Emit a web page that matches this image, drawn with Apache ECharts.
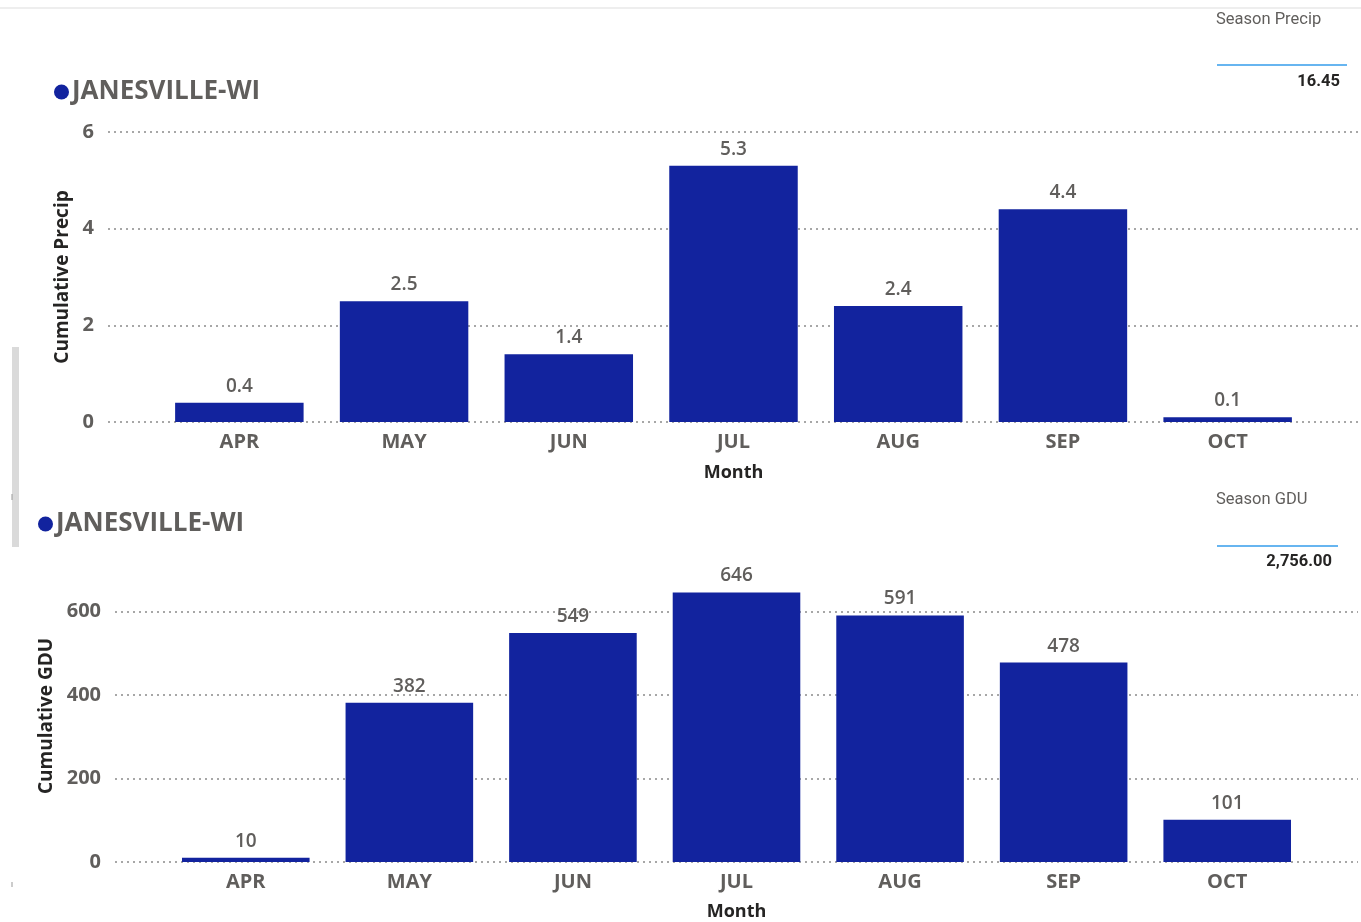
<!DOCTYPE html>
<html><head><meta charset="utf-8">
<script src="https://cdn.jsdelivr.net/npm/echarts@6/dist/echarts.min.js"></script>
<style>html,body{margin:0;padding:0;background:#fff}#c{width:1361px;height:922px}</style>
</head><body><div id="c"></div>
<script>
const months = ['APR','MAY','JUN','JUL','AUG','SEP','OCT'];
const precip = [0.4, 2.5, 1.4, 5.3, 2.4, 4.4, 0.1];
const gdu = [10, 382, 549, 646, 591, 478, 101];
const seriesName = 'JANESVILLE-WI';
const seasonPrecip = '16.45';
const seasonGdu = '2,756.00';

const BAR = '#12239E';
const TXT = '#605E5C';
const FONT = 'Open Sans';
const dotted = {type:[2,4], color:'#8a8a8a', width:1.5};

const chart = echarts.init(document.getElementById('c'));
function gridAxisY(gi, min, max, interval, name, gap){
  return {gridIndex:gi, type:'value', min, max, interval,
    name, nameLocation:'middle', nameRotate:90, nameGap:gap,
    nameTextStyle:{color:'#252423', fontSize:19, fontWeight:'bold', fontFamily:FONT},
    axisLine:{show:false}, axisTick:{show:false},
    axisLabel:{color:TXT, fontSize:20, fontWeight:'bold', fontFamily:FONT, margin:14, showMaxLabel: max%interval===0},
    splitLine:{show:true, lineStyle:dotted, showMaxLine: max%interval===0}};
}
function hiddenY(gi, min, max, interval){
  return {gridIndex:gi, type:'value', min, max, interval, show:false, splitLine:{show:false}};
}
function catX(gi, gap){
  return {gridIndex:gi, type:'category', data:months,
    name:'Month', nameLocation:'middle', nameGap:gap,
    nameTextStyle:{color:'#252423', fontSize:18, fontWeight:'bold', fontFamily:FONT},
    axisLine:{show:false}, axisTick:{show:false},
    axisLabel:{color:TXT, fontSize:20, fontWeight:'bold', fontFamily:FONT, margin:10}};
}
function barSeries(xi, yi, data){
  return {type:'bar', name:seriesName, xAxisIndex:xi, yAxisIndex:yi, data, barWidth:'78%',
    itemStyle:{color:BAR},
    label:{show:true, position:'top', distance:7, color:TXT, fontSize:19, fontWeight:600, fontFamily:FONT}};
}
const legendText = {color:TXT, fontSize:26, fontWeight:'bold', fontFamily:FONT, padding:[0,0,0,-2]};
chart.setOption({
  animation:false,
  legend:[
    {left:49, top:74, icon:'circle', itemWidth:15, itemHeight:15, itemGap:0, data:[seriesName], textStyle:legendText},
    {left:33, top:506, icon:'circle', itemWidth:15, itemHeight:15, itemGap:0, data:[seriesName], textStyle:legendText}
  ],
  grid:[
    {left:108, right:3, top:132, height:290, outerBoundsMode:'none'},
    {left:157, right:51, top:132, height:290, outerBoundsMode:'none'},
    {left:115, right:3, top:570, height:292, outerBoundsMode:'none'},
    {left:164, right:52, top:570, height:292, outerBoundsMode:'none'}
  ],
  xAxis:[
    {gridIndex:0, type:'value', show:false, splitLine:{show:false}},
    catX(1, 42),
    {gridIndex:2, type:'value', show:false, splitLine:{show:false}},
    catX(3, 41)
  ],
  yAxis:[
    gridAxisY(0, 0, 6, 2, 'Cumulative Precip', 36),
    hiddenY(1, 0, 6, 2),
    gridAxisY(2, 0, 700, 200, 'Cumulative GDU', 59),
    hiddenY(3, 0, 700, 200)
  ],
  series:[
    barSeries(1, 1, precip),
    barSeries(3, 3, gdu)
  ],
  graphic:[
    {type:'line', shape:{x1:0,y1:8,x2:1361,y2:8}, style:{stroke:'#e8e8e8', lineWidth:1.5}},
    {type:'rect', shape:{x:12,y:347,width:7,height:200}, style:{fill:'#dadada'}},
    {type:'line', shape:{x1:12,y1:494,x2:12,y2:500}, style:{stroke:'#999', lineWidth:1}},
    {type:'line', shape:{x1:12,y1:882,x2:12,y2:887}, style:{stroke:'#999', lineWidth:1}},
    {type:'text', left:1216, top:11, style:{text:'Season Precip', fill:TXT, font:'16.5px Roboto'}},
    {type:'line', shape:{x1:1217,y1:65,x2:1347,y2:65}, style:{stroke:'#67b5f0', lineWidth:2}},
    {type:'text', right:21, top:73, style:{text:seasonPrecip, fill:'#252423', font:'bold 16.5px Roboto', textAlign:'right'}},
    {type:'text', left:1216, top:491, style:{text:'Season GDU', fill:TXT, font:'16.5px Roboto'}},
    {type:'line', shape:{x1:1217,y1:546,x2:1338,y2:546}, style:{stroke:'#67b5f0', lineWidth:2}},
    {type:'text', right:29, top:553, style:{text:seasonGdu, fill:'#252423', font:'bold 16.5px Roboto', textAlign:'right'}}
  ]
});
</script></body></html>
